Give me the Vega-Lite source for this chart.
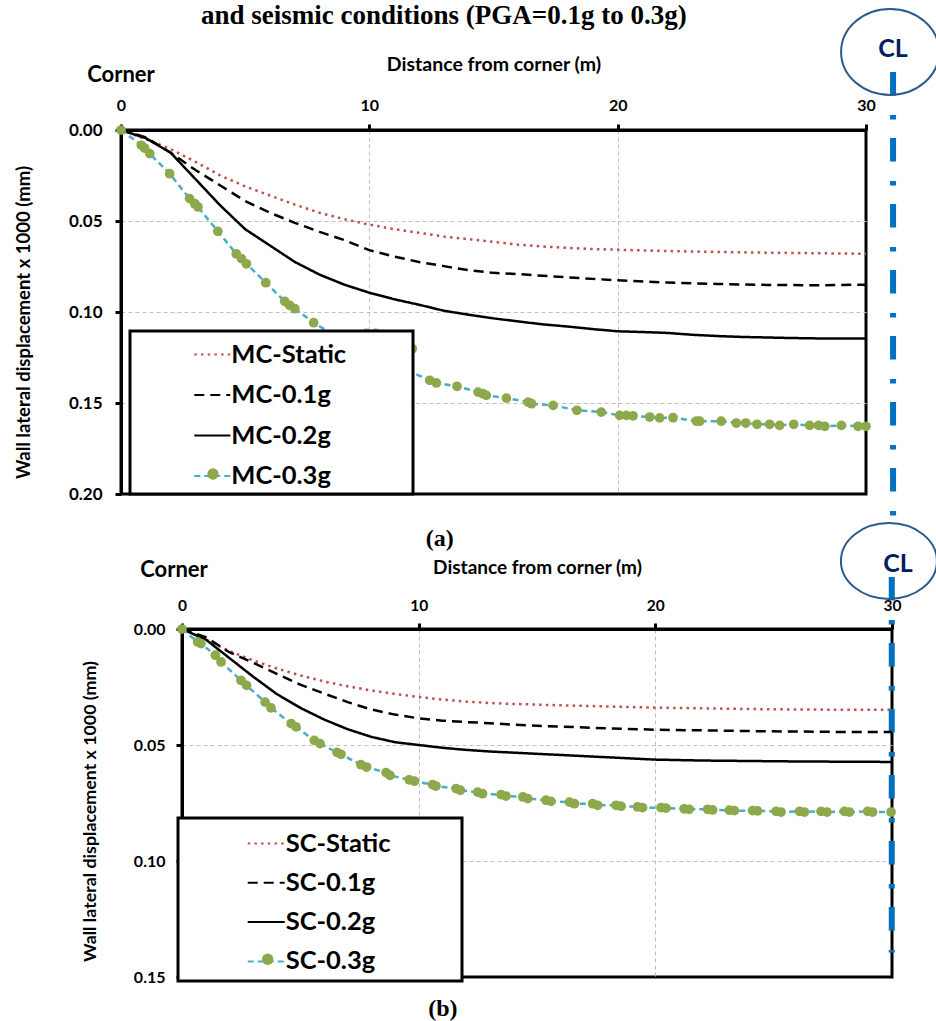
{
  "$schema": "https://vega.github.io/schema/vega-lite/v6.json",
  "background": "white",
  "padding": {"left": 0, "top": 0, "right": 0, "bottom": 0},
  "config": {
    "font": "Lato",
    "view": {"stroke": null},
    "axis": {
      "domainColor": "black", "domainWidth": 3,
      "tickColor": "black", "tickWidth": 3, "tickSize": 6,
      "gridColor": "#BFBFBF", "gridDash": [4, 3], "gridWidth": 1,
      "labelColor": "black", "labelFont": "Lato", "labelFontWeight": "bold", "labelFlush": false,
      "titleColor": "black", "titleFont": "Lato", "titleFontWeight": "bold"
    },
    "legend": {"strokeWidth": 3}
  },
  "resolve": {
    "scale": {"stroke": "independent", "strokeDash": "independent", "fill": "independent"},
    "legend": {"stroke": "independent", "strokeDash": "independent", "fill": "independent"}
  },
  "datasets": {
    "one": [{}],
    "mc": [
      {"s":"MC-Static","x":0,"y":0},{"s":"MC-Static","x":1,"y":0.005},{"s":"MC-Static","x":2,"y":0.0105},{"s":"MC-Static","x":3,"y":0.0175},{"s":"MC-Static","x":4,"y":0.025},{"s":"MC-Static","x":5,"y":0.031},{"s":"MC-Static","x":6,"y":0.036},{"s":"MC-Static","x":7,"y":0.041},{"s":"MC-Static","x":8,"y":0.0455},{"s":"MC-Static","x":9,"y":0.049},{"s":"MC-Static","x":10,"y":0.052},{"s":"MC-Static","x":11,"y":0.0545},{"s":"MC-Static","x":12,"y":0.0565},{"s":"MC-Static","x":13,"y":0.0585},{"s":"MC-Static","x":14,"y":0.06},{"s":"MC-Static","x":15,"y":0.0615},{"s":"MC-Static","x":16,"y":0.063},{"s":"MC-Static","x":17,"y":0.064},{"s":"MC-Static","x":18,"y":0.0648},{"s":"MC-Static","x":19,"y":0.0654},{"s":"MC-Static","x":20,"y":0.0658},{"s":"MC-Static","x":22,"y":0.0665},{"s":"MC-Static","x":24,"y":0.067},{"s":"MC-Static","x":26,"y":0.0674},{"s":"MC-Static","x":28,"y":0.0677},{"s":"MC-Static","x":30,"y":0.068},
      {"s":"MC-0.1g","x":0,"y":0},{"s":"MC-0.1g","x":1,"y":0.004},{"s":"MC-0.1g","x":2,"y":0.0125},{"s":"MC-0.1g","x":3,"y":0.022},{"s":"MC-0.1g","x":4,"y":0.0305},{"s":"MC-0.1g","x":5,"y":0.039},{"s":"MC-0.1g","x":6,"y":0.0455},{"s":"MC-0.1g","x":7,"y":0.051},{"s":"MC-0.1g","x":8,"y":0.056},{"s":"MC-0.1g","x":9,"y":0.0605},{"s":"MC-0.1g","x":10,"y":0.066},{"s":"MC-0.1g","x":11,"y":0.0695},{"s":"MC-0.1g","x":12,"y":0.0725},{"s":"MC-0.1g","x":13,"y":0.0748},{"s":"MC-0.1g","x":14,"y":0.077},{"s":"MC-0.1g","x":15,"y":0.0785},{"s":"MC-0.1g","x":16,"y":0.0792},{"s":"MC-0.1g","x":17,"y":0.0801},{"s":"MC-0.1g","x":18,"y":0.081},{"s":"MC-0.1g","x":19,"y":0.0818},{"s":"MC-0.1g","x":20,"y":0.0826},{"s":"MC-0.1g","x":22,"y":0.0838},{"s":"MC-0.1g","x":24,"y":0.0846},{"s":"MC-0.1g","x":26,"y":0.0851},{"s":"MC-0.1g","x":28,"y":0.0853},{"s":"MC-0.1g","x":30,"y":0.085},
      {"s":"MC-0.2g","x":0,"y":0},{"s":"MC-0.2g","x":1,"y":0.0045},{"s":"MC-0.2g","x":2,"y":0.0125},{"s":"MC-0.2g","x":3,"y":0.027},{"s":"MC-0.2g","x":4,"y":0.0415},{"s":"MC-0.2g","x":5,"y":0.0545},{"s":"MC-0.2g","x":6,"y":0.0635},{"s":"MC-0.2g","x":7,"y":0.0725},{"s":"MC-0.2g","x":8,"y":0.0795},{"s":"MC-0.2g","x":9,"y":0.085},{"s":"MC-0.2g","x":10,"y":0.0894},{"s":"MC-0.2g","x":11,"y":0.093},{"s":"MC-0.2g","x":12,"y":0.096},{"s":"MC-0.2g","x":13,"y":0.0993},{"s":"MC-0.2g","x":14,"y":0.1015},{"s":"MC-0.2g","x":15,"y":0.1035},{"s":"MC-0.2g","x":16,"y":0.1052},{"s":"MC-0.2g","x":17,"y":0.1068},{"s":"MC-0.2g","x":18,"y":0.108},{"s":"MC-0.2g","x":19,"y":0.1094},{"s":"MC-0.2g","x":20,"y":0.1106},{"s":"MC-0.2g","x":21,"y":0.111},{"s":"MC-0.2g","x":22,"y":0.1115},{"s":"MC-0.2g","x":23,"y":0.1125},{"s":"MC-0.2g","x":24,"y":0.1132},{"s":"MC-0.2g","x":25,"y":0.1137},{"s":"MC-0.2g","x":26,"y":0.114},{"s":"MC-0.2g","x":27,"y":0.1143},{"s":"MC-0.2g","x":28,"y":0.1145},{"s":"MC-0.2g","x":29,"y":0.1145},{"s":"MC-0.2g","x":30,"y":0.1145},
      {"s":"MC-0.3g","x":0,"y":0},{"s":"MC-0.3g","x":0.82,"y":0.0084},{"s":"MC-0.3g","x":0.95,"y":0.0099},{"s":"MC-0.3g","x":1.16,"y":0.013},{"s":"MC-0.3g","x":1.96,"y":0.024},{"s":"MC-0.3g","x":2.76,"y":0.0377},{"s":"MC-0.3g","x":2.97,"y":0.0405},{"s":"MC-0.3g","x":3.1,"y":0.0423},{"s":"MC-0.3g","x":3.9,"y":0.0557},{"s":"MC-0.3g","x":4.64,"y":0.068},{"s":"MC-0.3g","x":4.85,"y":0.0707},{"s":"MC-0.3g","x":5.05,"y":0.0735},{"s":"MC-0.3g","x":5.83,"y":0.0839},{"s":"MC-0.3g","x":6.59,"y":0.0941},{"s":"MC-0.3g","x":6.79,"y":0.0963},{"s":"MC-0.3g","x":7.0,"y":0.0982},{"s":"MC-0.3g","x":7.76,"y":0.1059},{"s":"MC-0.3g","x":8.6,"y":0.1128},{"s":"MC-0.3g","x":9.88,"y":0.1118},{"s":"MC-0.3g","x":10.25,"y":0.1118},{"s":"MC-0.3g","x":11.73,"y":0.1202},{"s":"MC-0.3g","x":11.2,"y":0.13},{"s":"MC-0.3g","x":12.43,"y":0.1375},{"s":"MC-0.3g","x":12.7,"y":0.139},{"s":"MC-0.3g","x":13.53,"y":0.1408},{"s":"MC-0.3g","x":14.38,"y":0.144},{"s":"MC-0.3g","x":14.58,"y":0.1449},{"s":"MC-0.3g","x":14.71,"y":0.1458},{"s":"MC-0.3g","x":15.52,"y":0.1473},{"s":"MC-0.3g","x":16.39,"y":0.1495},{"s":"MC-0.3g","x":16.53,"y":0.1504},{"s":"MC-0.3g","x":17.4,"y":0.1513},{"s":"MC-0.3g","x":18.36,"y":0.154},{"s":"MC-0.3g","x":19.34,"y":0.155},{"s":"MC-0.3g","x":20.08,"y":0.1568},{"s":"MC-0.3g","x":20.35,"y":0.1568},{"s":"MC-0.3g","x":20.62,"y":0.1571},{"s":"MC-0.3g","x":21.29,"y":0.1577},{"s":"MC-0.3g","x":21.69,"y":0.1582},{"s":"MC-0.3g","x":22.23,"y":0.1581},{"s":"MC-0.3g","x":23.17,"y":0.1599},{"s":"MC-0.3g","x":23.3,"y":0.16},{"s":"MC-0.3g","x":24.17,"y":0.16},{"s":"MC-0.3g","x":24.78,"y":0.161},{"s":"MC-0.3g","x":25.16,"y":0.161},{"s":"MC-0.3g","x":25.61,"y":0.1617},{"s":"MC-0.3g","x":26.12,"y":0.1617},{"s":"MC-0.3g","x":26.52,"y":0.1623},{"s":"MC-0.3g","x":27.09,"y":0.1617},{"s":"MC-0.3g","x":27.73,"y":0.1623},{"s":"MC-0.3g","x":28.09,"y":0.1623},{"s":"MC-0.3g","x":28.34,"y":0.1628},{"s":"MC-0.3g","x":29.01,"y":0.1623},{"s":"MC-0.3g","x":29.68,"y":0.1628},{"s":"MC-0.3g","x":30,"y":0.1628}
    ],
    "sc": [
      {"s":"SC-Static","x":0,"y":0},{"s":"SC-Static","x":1,"y":0.0045},{"s":"SC-Static","x":2,"y":0.0095},{"s":"SC-Static","x":3,"y":0.0135},{"s":"SC-Static","x":4,"y":0.017},{"s":"SC-Static","x":5,"y":0.02},{"s":"SC-Static","x":6,"y":0.0226},{"s":"SC-Static","x":7,"y":0.0247},{"s":"SC-Static","x":8,"y":0.0265},{"s":"SC-Static","x":9,"y":0.028},{"s":"SC-Static","x":10,"y":0.0293},{"s":"SC-Static","x":11,"y":0.0304},{"s":"SC-Static","x":12,"y":0.0313},{"s":"SC-Static","x":13,"y":0.0319},{"s":"SC-Static","x":14,"y":0.0323},{"s":"SC-Static","x":15,"y":0.0326},{"s":"SC-Static","x":16,"y":0.0329},{"s":"SC-Static","x":18,"y":0.0334},{"s":"SC-Static","x":20,"y":0.0339},{"s":"SC-Static","x":22,"y":0.0342},{"s":"SC-Static","x":24,"y":0.0345},{"s":"SC-Static","x":26,"y":0.0347},{"s":"SC-Static","x":28,"y":0.0348},{"s":"SC-Static","x":30,"y":0.0348},
      {"s":"SC-0.1g","x":0,"y":0},{"s":"SC-0.1g","x":1,"y":0.0035},{"s":"SC-0.1g","x":2,"y":0.01},{"s":"SC-0.1g","x":3,"y":0.0145},{"s":"SC-0.1g","x":4,"y":0.0193},{"s":"SC-0.1g","x":5,"y":0.024},{"s":"SC-0.1g","x":6,"y":0.0278},{"s":"SC-0.1g","x":7,"y":0.0315},{"s":"SC-0.1g","x":8,"y":0.0347},{"s":"SC-0.1g","x":9,"y":0.0369},{"s":"SC-0.1g","x":10,"y":0.0385},{"s":"SC-0.1g","x":11,"y":0.0395},{"s":"SC-0.1g","x":12,"y":0.0401},{"s":"SC-0.1g","x":13,"y":0.0406},{"s":"SC-0.1g","x":14,"y":0.0412},{"s":"SC-0.1g","x":15,"y":0.0417},{"s":"SC-0.1g","x":16,"y":0.0421},{"s":"SC-0.1g","x":18,"y":0.0428},{"s":"SC-0.1g","x":20,"y":0.0434},{"s":"SC-0.1g","x":22,"y":0.0437},{"s":"SC-0.1g","x":24,"y":0.044},{"s":"SC-0.1g","x":26,"y":0.0442},{"s":"SC-0.1g","x":28,"y":0.0444},{"s":"SC-0.1g","x":30,"y":0.0444},
      {"s":"SC-0.2g","x":0,"y":0},{"s":"SC-0.2g","x":1,"y":0.0045},{"s":"SC-0.2g","x":2,"y":0.0125},{"s":"SC-0.2g","x":3,"y":0.0205},{"s":"SC-0.2g","x":4,"y":0.028},{"s":"SC-0.2g","x":5,"y":0.034},{"s":"SC-0.2g","x":6,"y":0.039},{"s":"SC-0.2g","x":7,"y":0.0432},{"s":"SC-0.2g","x":8,"y":0.0465},{"s":"SC-0.2g","x":9,"y":0.0488},{"s":"SC-0.2g","x":10,"y":0.05},{"s":"SC-0.2g","x":11,"y":0.0512},{"s":"SC-0.2g","x":12,"y":0.0521},{"s":"SC-0.2g","x":13,"y":0.0528},{"s":"SC-0.2g","x":14,"y":0.0533},{"s":"SC-0.2g","x":15,"y":0.0538},{"s":"SC-0.2g","x":16,"y":0.0543},{"s":"SC-0.2g","x":18,"y":0.0553},{"s":"SC-0.2g","x":20,"y":0.0563},{"s":"SC-0.2g","x":22,"y":0.0567},{"s":"SC-0.2g","x":24,"y":0.0569},{"s":"SC-0.2g","x":26,"y":0.0571},{"s":"SC-0.2g","x":28,"y":0.0572},{"s":"SC-0.2g","x":30,"y":0.0573},
      {"s":"SC-0.3g","x":0,"y":0},{"s":"SC-0.3g","x":0.66,"y":0.0056},{"s":"SC-0.3g","x":0.8,"y":0.0063},{"s":"SC-0.3g","x":1.41,"y":0.0113},{"s":"SC-0.3g","x":1.65,"y":0.0142},{"s":"SC-0.3g","x":2.49,"y":0.0221},{"s":"SC-0.3g","x":2.73,"y":0.0243},{"s":"SC-0.3g","x":3.51,"y":0.0315},{"s":"SC-0.3g","x":3.76,"y":0.034},{"s":"SC-0.3g","x":4.61,"y":0.0408},{"s":"SC-0.3g","x":4.82,"y":0.0422},{"s":"SC-0.3g","x":5.59,"y":0.048},{"s":"SC-0.3g","x":5.83,"y":0.0494},{"s":"SC-0.3g","x":6.55,"y":0.0532},{"s":"SC-0.3g","x":6.72,"y":0.054},{"s":"SC-0.3g","x":7.56,"y":0.0585},{"s":"SC-0.3g","x":7.8,"y":0.0595},{"s":"SC-0.3g","x":8.62,"y":0.0619},{"s":"SC-0.3g","x":8.79,"y":0.0631},{"s":"SC-0.3g","x":9.6,"y":0.065},{"s":"SC-0.3g","x":9.82,"y":0.0656},{"s":"SC-0.3g","x":10.59,"y":0.0671},{"s":"SC-0.3g","x":10.73,"y":0.0677},{"s":"SC-0.3g","x":11.58,"y":0.0688},{"s":"SC-0.3g","x":11.76,"y":0.0695},{"s":"SC-0.3g","x":12.49,"y":0.0703},{"s":"SC-0.3g","x":12.7,"y":0.071},{"s":"SC-0.3g","x":13.48,"y":0.0714},{"s":"SC-0.3g","x":13.69,"y":0.072},{"s":"SC-0.3g","x":14.4,"y":0.0724},{"s":"SC-0.3g","x":14.61,"y":0.0731},{"s":"SC-0.3g","x":15.38,"y":0.0738},{"s":"SC-0.3g","x":15.59,"y":0.0743},{"s":"SC-0.3g","x":16.37,"y":0.0746},{"s":"SC-0.3g","x":16.58,"y":0.0753},{"s":"SC-0.3g","x":17.35,"y":0.0753},{"s":"SC-0.3g","x":17.56,"y":0.076},{"s":"SC-0.3g","x":18.34,"y":0.076},{"s":"SC-0.3g","x":18.55,"y":0.0764},{"s":"SC-0.3g","x":19.25,"y":0.0767},{"s":"SC-0.3g","x":19.46,"y":0.077},{"s":"SC-0.3g","x":20.24,"y":0.077},{"s":"SC-0.3g","x":20.45,"y":0.0772},{"s":"SC-0.3g","x":21.22,"y":0.0775},{"s":"SC-0.3g","x":21.43,"y":0.0777},{"s":"SC-0.3g","x":22.21,"y":0.0777},{"s":"SC-0.3g","x":22.42,"y":0.078},{"s":"SC-0.3g","x":23.13,"y":0.0781},{"s":"SC-0.3g","x":23.34,"y":0.0783},{"s":"SC-0.3g","x":24.11,"y":0.0783},{"s":"SC-0.3g","x":24.32,"y":0.0784},{"s":"SC-0.3g","x":25.1,"y":0.0786},{"s":"SC-0.3g","x":25.31,"y":0.0789},{"s":"SC-0.3g","x":26.09,"y":0.0786},{"s":"SC-0.3g","x":26.3,"y":0.0789},{"s":"SC-0.3g","x":27.0,"y":0.0786},{"s":"SC-0.3g","x":27.25,"y":0.0789},{"s":"SC-0.3g","x":27.99,"y":0.0786},{"s":"SC-0.3g","x":28.2,"y":0.0789},{"s":"SC-0.3g","x":28.97,"y":0.0786},{"s":"SC-0.3g","x":29.18,"y":0.0789},{"s":"SC-0.3g","x":29.96,"y":0.0789}
    ]
  },
  "vconcat": [
    {
      "resolve": {
        "scale": {"stroke": "independent", "strokeDash": "independent", "fill": "independent"},
        "legend": {"stroke": "independent", "strokeDash": "independent", "fill": "independent"}
      },
      "hconcat": [
        {"width": 12, "height": 10, "view": {"stroke": null}, "data": {"name": "one"}, "mark": {"type": "point", "opacity": 0}},
        {
          "width": 745, "height": 364,
          "view": {"stroke": "black", "strokeWidth": 3},
          "layer": [
            {
              "data": {"name": "one"},
              "mark": {"type": "rule", "color": "#0070C0", "strokeWidth": 6, "strokeDash": [23.5, 19.5, 4.5, 18.5], "strokeCap": "butt"},
              "encoding": {"x": {"datum": 31.09, "type": "quantitative"}, "y": {"datum": -0.0319, "type": "quantitative"}, "y2": {"datum": 0.2129}}
            },
            {
              "data": {"name": "mc"},
              "mark": {"type": "line", "strokeWidth": 2.5},
              "encoding": {
                "x": {"field": "x", "type": "quantitative", "scale": {"domain": [0, 30], "nice": false, "zero": false},
                  "axis": {"orient": "top", "values": [0, 10, 20, 30], "format": "d", "title": "Distance from corner (m)", "titleFontSize": 19.5, "titleY": -60, "titleBaseline": "alphabetic", "labelFontSize": 16, "labelPadding": 14, "labelBaseline": "alphabetic", "grid": true,
                    "gridOpacity": {"condition": {"test": "datum.value == 0 || datum.value == 30", "value": 0}, "value": 1}}},
                "y": {"field": "y", "type": "quantitative", "scale": {"domain": [0, 0.2], "reverse": true, "nice": false, "zero": false},
                  "axis": {"values": [0, 0.05, 0.1, 0.15, 0.2], "format": ".2f", "title": "Wall lateral displacement x 1000 (mm)", "titleFontSize": 18.5, "titleX": -91.7, "titleY": 192, "titleBaseline": "alphabetic", "labelFontSize": 17, "labelPadding": 13, "grid": true,
                    "gridOpacity": {"condition": {"test": "datum.value == 0 || datum.value == 0.2", "value": 0}, "value": 1}}},
                "stroke": {"field": "s", "type": "nominal",
                  "scale": {"domain": ["MC-Static", "MC-0.1g", "MC-0.2g", "MC-0.3g"], "range": ["#C0504D", "#000000", "#000000", "#4BACC6"]},
                  "legend": {"orient": "none", "legendX": 9, "legendY": 201, "direction": "vertical", "title": "_", "titleOrient": "right", "titleFontSize": 1, "titleOpacity": 0, "titlePadding": 61, "fillColor": "white", "strokeColor": "black", "padding": 4.5, "symbolType": "stroke", "symbolSize": 1296, "symbolStrokeWidth": 2, "symbolOffset": 58.8, "labelOffset": 0, "labelFont": "Lato", "labelFontSize": 25.5, "labelFontWeight": "bold", "labelColor": "black", "labelLimit": 500, "rowPadding": 7.5, "zindex": 1}},
                "strokeDash": {"field": "s", "type": "nominal",
                  "scale": {"domain": ["MC-Static", "MC-0.1g", "MC-0.2g", "MC-0.3g"], "range": [[2.5, 4.2], [10, 6], [1, 0], [6, 4]]},
                  "legend": {"orient": "none", "legendX": 9, "legendY": 201, "direction": "vertical", "title": "_", "titleOrient": "right", "titleFontSize": 1, "titleOpacity": 0, "titlePadding": 61, "fillColor": "white", "strokeColor": "black", "padding": 4.5, "symbolType": "stroke", "symbolSize": 1296, "symbolStrokeWidth": 2, "symbolOffset": 58.8, "labelOffset": 0, "labelFont": "Lato", "labelFontSize": 25.5, "labelFontWeight": "bold", "labelColor": "black", "labelLimit": 500, "rowPadding": 7.5, "zindex": 1}},
                "order": {"value": null}
              }
            },
            {
              "data": {"name": "mc"},
              "transform": [{"filter": "datum.s == 'MC-0.3g'"}],
              "mark": {"type": "point", "filled": true, "size": 95, "opacity": 1, "strokeWidth": 0},
              "encoding": {
                "x": {"field": "x", "type": "quantitative"},
                "y": {"field": "y", "type": "quantitative"},
                "fill": {"field": "s", "type": "nominal", "scale": {"domain": ["MC-0.3g"], "range": ["#8DA94C"]},
                  "legend": {"orient": "none", "legendX": 86, "legendY": 338, "direction": "vertical", "title": null, "padding": 0, "symbolType": "circle", "symbolSize": 130, "symbolStrokeWidth": 0, "labelExpr": "''", "labelFontSize": 1, "zindex": 2}}
              }
            },
            {
              "data": {"name": "one"},
              "mark": {"type": "text", "text": "and seismic conditions (PGA=0.1g to 0.3g)", "font": "Liberation Serif", "fontSize": 27, "fontWeight": "bold", "color": "black", "align": "center", "baseline": "alphabetic"},
              "encoding": {"x": {"datum": 13.0, "type": "quantitative"}, "y": {"datum": -0.0585, "type": "quantitative"}}
            },
            {
              "data": {"name": "one"},
              "mark": {"type": "text", "text": "Corner", "font": "Lato", "fontSize": 22, "fontWeight": "bold", "color": "black", "align": "center", "baseline": "alphabetic"},
              "encoding": {"x": {"datum": 0, "type": "quantitative"}, "y": {"datum": -0.0264, "type": "quantitative"}}
            },
            {
              "data": {"name": "one"},
              "mark": {"type": "point", "shape": "M-1,0A1,0.878,0,1,1,1,0A1,0.878,0,1,1,-1,0Z", "size": 9604, "filled": false, "stroke": "#2E5A8A", "strokeWidth": 2, "opacity": 1},
              "encoding": {"x": {"datum": 30.97, "type": "quantitative"}, "y": {"datum": -0.0429, "type": "quantitative"}}
            },
            {
              "data": {"name": "one"},
              "mark": {"type": "text", "text": "CL", "font": "Lato", "fontSize": 25, "fontWeight": "bold", "color": "#002060", "align": "center", "baseline": "alphabetic"},
              "encoding": {"x": {"datum": 31.09, "type": "quantitative"}, "y": {"datum": -0.0401, "type": "quantitative"}}
            }
          ]
        }
      ],
      "spacing": 0
    },
    {
      "resolve": {
        "scale": {"stroke": "independent", "strokeDash": "independent", "fill": "independent"},
        "legend": {"stroke": "independent", "strokeDash": "independent", "fill": "independent"}
      },
      "hconcat": [
        {"width": 80, "height": 10, "view": {"stroke": null}, "data": {"name": "one"}, "mark": {"type": "point", "opacity": 0}},
        {
          "width": 710, "height": 348,
          "view": {"stroke": "black", "strokeWidth": 3},
          "layer": [
            {
              "data": {"name": "one"},
              "mark": {"type": "rule", "color": "#0070C0", "strokeWidth": 6, "strokeDash": [23.5, 19.5, 4.5, 18.5], "strokeCap": "butt"},
              "encoding": {"x": {"datum": 29.99, "type": "quantitative"}, "y": {"datum": -0.0224, "type": "quantitative"}, "y2": {"datum": 0.1394}}
            },
            {
              "data": {"name": "sc"},
              "mark": {"type": "line", "strokeWidth": 2.5},
              "encoding": {
                "x": {"field": "x", "type": "quantitative", "scale": {"domain": [0, 30], "nice": false, "zero": false},
                  "axis": {"orient": "top", "values": [0, 10, 20, 30], "format": "d", "title": "Distance from corner (m)", "titleFontSize": 19, "titleY": -56, "titleBaseline": "alphabetic", "labelFontSize": 15.5, "labelPadding": 13, "labelBaseline": "alphabetic", "grid": true,
                    "gridOpacity": {"condition": {"test": "datum.value == 0 || datum.value == 30", "value": 0}, "value": 1}}},
                "y": {"field": "y", "type": "quantitative", "scale": {"domain": [0, 0.15], "reverse": true, "nice": false, "zero": false},
                  "axis": {"values": [0, 0.05, 0.1, 0.15], "format": ".2f", "title": "Wall lateral displacement x 1000 (mm)", "titleFontSize": 17.8, "titleX": -86.2, "titleY": 182, "titleBaseline": "alphabetic", "labelFontSize": 16, "labelPadding": 11, "grid": true,
                    "gridOpacity": {"condition": {"test": "datum.value == 0 || datum.value == 0.15", "value": 0}, "value": 1}}},
                "stroke": {"field": "s", "type": "nominal",
                  "scale": {"domain": ["SC-Static", "SC-0.1g", "SC-0.2g", "SC-0.3g"], "range": ["#C0504D", "#000000", "#000000", "#4BACC6"]},
                  "legend": {"orient": "none", "legendX": -4, "legendY": 189, "direction": "vertical", "title": "_", "titleOrient": "right", "titleFontSize": 1, "titleOpacity": 0, "titlePadding": 65.2, "fillColor": "white", "strokeColor": "black", "padding": 6, "symbolType": "stroke", "symbolSize": 1369, "symbolStrokeWidth": 2, "symbolOffset": 62.7, "labelOffset": 0, "labelFont": "Lato", "labelFontSize": 25.5, "labelFontWeight": "bold", "labelColor": "black", "labelLimit": 500, "rowPadding": 6.3, "zindex": 1}},
                "strokeDash": {"field": "s", "type": "nominal",
                  "scale": {"domain": ["SC-Static", "SC-0.1g", "SC-0.2g", "SC-0.3g"], "range": [[2.5, 4.2], [10, 6], [1, 0], [6, 4]]},
                  "legend": {"orient": "none", "legendX": -4, "legendY": 189, "direction": "vertical", "title": "_", "titleOrient": "right", "titleFontSize": 1, "titleOpacity": 0, "titlePadding": 65.2, "fillColor": "white", "strokeColor": "black", "padding": 6, "symbolType": "stroke", "symbolSize": 1369, "symbolStrokeWidth": 2, "symbolOffset": 62.7, "labelOffset": 0, "labelFont": "Lato", "labelFontSize": 25.5, "labelFontWeight": "bold", "labelColor": "black", "labelLimit": 500, "rowPadding": 6.3, "zindex": 1}}
              }
            },
            {
              "data": {"name": "sc"},
              "transform": [{"filter": "datum.s == 'SC-0.3g'"}],
              "mark": {"type": "point", "filled": true, "size": 95, "opacity": 1, "strokeWidth": 0},
              "encoding": {
                "x": {"field": "x", "type": "quantitative"},
                "y": {"field": "y", "type": "quantitative"},
                "fill": {"field": "s", "type": "nominal", "scale": {"domain": ["SC-0.3g"], "range": ["#8DA94C"]},
                  "legend": {"orient": "none", "legendX": 79.7, "legendY": 324.3, "direction": "vertical", "title": null, "padding": 0, "symbolType": "circle", "symbolSize": 130, "symbolStrokeWidth": 0, "labelExpr": "''", "labelFontSize": 1, "zindex": 2}}
              }
            },
            {
              "data": {"name": "one"},
              "mark": {"type": "text", "text": "(a)", "font": "Liberation Serif", "fontSize": 24, "fontWeight": "bold", "color": "black", "align": "center", "baseline": "alphabetic"},
              "encoding": {"x": {"datum": 10.89, "type": "quantitative"}, "y": {"datum": -0.0358, "type": "quantitative"}}
            },
            {
              "data": {"name": "one"},
              "mark": {"type": "text", "text": "(b)", "font": "Liberation Serif", "fontSize": 24, "fontWeight": "bold", "color": "black", "align": "center", "baseline": "alphabetic"},
              "encoding": {"x": {"datum": 11.02, "type": "quantitative"}, "y": {"datum": 0.1668, "type": "quantitative"}}
            },
            {
              "data": {"name": "one"},
              "mark": {"type": "text", "text": "Corner", "font": "Lato", "fontSize": 22, "fontWeight": "bold", "color": "black", "align": "center", "baseline": "alphabetic"},
              "encoding": {"x": {"datum": -0.338, "type": "quantitative"}, "y": {"datum": -0.0224, "type": "quantitative"}}
            },
            {
              "data": {"name": "one"},
              "mark": {"type": "point", "shape": "M-1,0A1,0.79,0,1,1,1,0A1,0.79,0,1,1,-1,0Z", "size": 9216, "filled": false, "stroke": "#2E5A8A", "strokeWidth": 2, "opacity": 1},
              "encoding": {"x": {"datum": 29.87, "type": "quantitative"}, "y": {"datum": -0.0293, "type": "quantitative"}}
            },
            {
              "data": {"name": "one"},
              "mark": {"type": "text", "text": "CL", "font": "Lato", "fontSize": 25, "fontWeight": "bold", "color": "#002060", "align": "center", "baseline": "alphabetic"},
              "encoding": {"x": {"datum": 30.25, "type": "quantitative"}, "y": {"datum": -0.0246, "type": "quantitative"}}
            }
          ]
        }
      ],
      "spacing": 0
    }
  ],
  "spacing": -5
}
